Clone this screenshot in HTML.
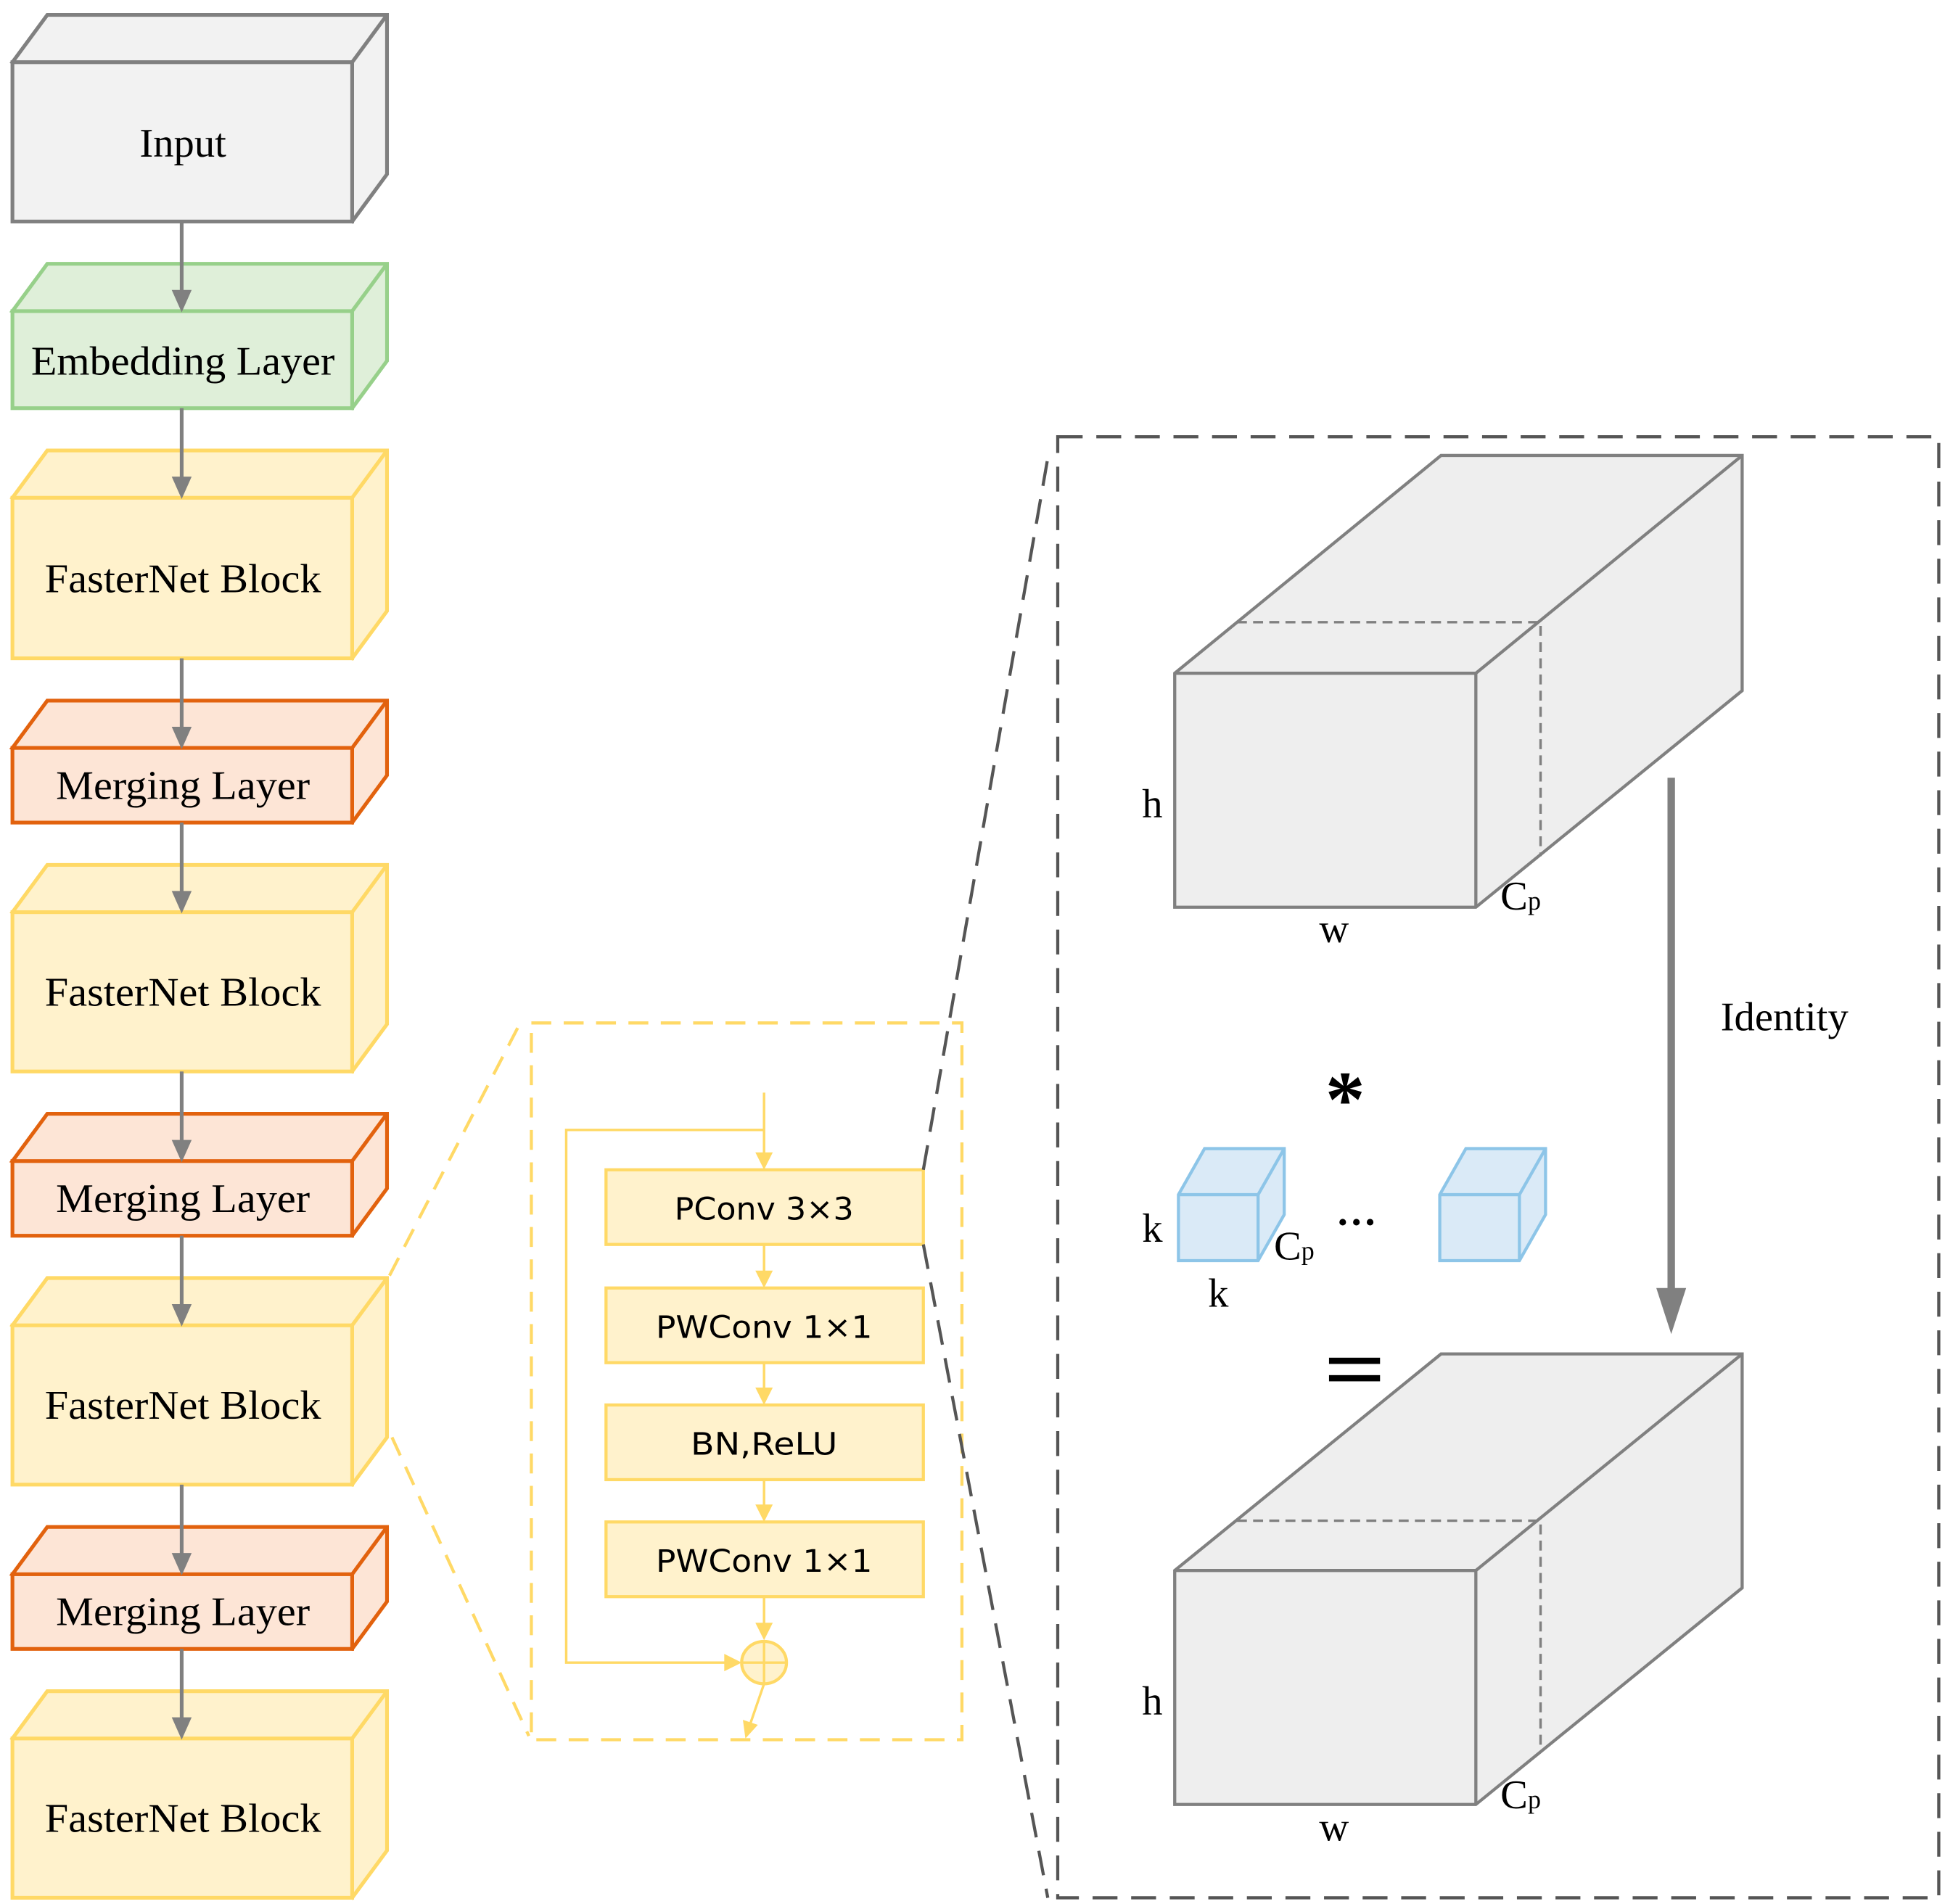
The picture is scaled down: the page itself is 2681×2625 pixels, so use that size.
<!DOCTYPE html>
<html><head><meta charset="utf-8"><style>html,body{margin:0;padding:0;background:#fff}svg{display:block}</style></head>
<body>
<svg width="2681" height="2625" viewBox="0 0 1563 1530" preserveAspectRatio="none" xmlns="http://www.w3.org/2000/svg">
<g font-family="Liberation Serif, serif" font-size="33" text-anchor="middle">
<g stroke-width="3" stroke-linejoin="miter">
<g stroke="#808080" fill="#f2f2f2"><path d="M10,50 L38,12 L311,12 L311,140 L283,178 Z"/><path d="M10,50 L283,50 L311,12 M283,50 L283,178" fill="none"/><rect x="10" y="50" width="273" height="128"/></g>
<g stroke="#97d08a" fill="#dfefd9"><path d="M10,250 L38,212 L311,212 L311,290 L283,328 Z"/><path d="M283,250 L311,212 M283,250 L283,328" fill="none"/><rect x="10" y="250" width="273" height="78"/></g>
<g stroke="#ffd966" fill="#fff2cc">
<path d="M10,400 L38,362 L311,362 L311,491 L283,529 Z"/><path d="M283,400 L311,362" fill="none"/><rect x="10" y="400" width="273" height="129"/>
<path d="M10,733 L38,695 L311,695 L311,823 L283,861 Z"/><path d="M283,733 L311,695" fill="none"/><rect x="10" y="733" width="273" height="128"/>
<path d="M10,1065 L38,1027 L311,1027 L311,1155 L283,1193 Z"/><path d="M283,1065 L311,1027" fill="none"/><rect x="10" y="1065" width="273" height="128"/>
<path d="M10,1397 L38,1359 L311,1359 L311,1487 L283,1525 Z"/><path d="M283,1397 L311,1359" fill="none"/><rect x="10" y="1397" width="273" height="128"/>
</g>
<g stroke="#e2620e" fill="#fde5d6">
<path d="M10,601 L38,563 L311,563 L311,623 L283,661 Z"/><path d="M283,601 L311,563" fill="none"/><rect x="10" y="601" width="273" height="60"/>
<path d="M10,933 L38,895 L311,895 L311,955 L283,993 Z"/><path d="M283,933 L311,895" fill="none"/><rect x="10" y="933" width="273" height="60"/>
<path d="M10,1265 L38,1227 L311,1227 L311,1287 L283,1325 Z"/><path d="M283,1265 L311,1227" fill="none"/><rect x="10" y="1265" width="273" height="60"/>
</g>
</g>
<g stroke="#808080" stroke-width="3">
<line x1="146" y1="178" x2="146" y2="236"/><line x1="146" y1="328" x2="146" y2="386"/><line x1="146" y1="529" x2="146" y2="587"/><line x1="146" y1="661" x2="146" y2="719"/><line x1="146" y1="861" x2="146" y2="919"/><line x1="146" y1="993" x2="146" y2="1051"/><line x1="146" y1="1193" x2="146" y2="1251"/><line x1="146" y1="1325" x2="146" y2="1383"/>
</g>
<g fill="#808080">
<path d="M138,233 L154,233 L146,251z"/><path d="M138,383 L154,383 L146,401z"/><path d="M138,584 L154,584 L146,602z"/><path d="M138,716 L154,716 L146,734z"/><path d="M138,916 L154,916 L146,934z"/><path d="M138,1048 L154,1048 L146,1066z"/><path d="M138,1248 L154,1248 L146,1266z"/><path d="M138,1380 L154,1380 L146,1398z"/>
</g>
<text x="147" y="126">Input</text>
<text x="147" y="301" textLength="244" lengthAdjust="spacingAndGlyphs">Embedding Layer</text>
<text x="147" y="476" textLength="222" lengthAdjust="spacingAndGlyphs">FasterNet Block</text>
<text x="147" y="642" textLength="204" lengthAdjust="spacingAndGlyphs">Merging Layer</text>
<text x="147" y="808" textLength="222" lengthAdjust="spacingAndGlyphs">FasterNet Block</text>
<text x="147" y="974" textLength="204" lengthAdjust="spacingAndGlyphs">Merging Layer</text>
<text x="147" y="1140" textLength="222" lengthAdjust="spacingAndGlyphs">FasterNet Block</text>
<text x="147" y="1306" textLength="204" lengthAdjust="spacingAndGlyphs">Merging Layer</text>
<text x="147" y="1472" textLength="222" lengthAdjust="spacingAndGlyphs">FasterNet Block</text>

<g stroke="#ffd966" stroke-width="2.5" fill="none" stroke-dasharray="16 10">
<rect x="427" y="822" width="346" height="576"/>
<line x1="313" y1="1025" x2="416" y2="826"/>
<line x1="315" y1="1155" x2="425" y2="1395"/>
</g>
<g stroke="#ffd966" stroke-width="2.5" fill="#fff2cc">
<rect x="487" y="940" width="255" height="60"/><rect x="487" y="1035" width="255" height="60"/><rect x="487" y="1129" width="255" height="60"/><rect x="487" y="1223" width="255" height="60"/>
<ellipse cx="614" cy="1336" rx="18" ry="17"/>
</g>
<g stroke="#ffd966" stroke-width="2" fill="none">
<line x1="614" y1="878" x2="614" y2="928"/><line x1="614" y1="1000" x2="614" y2="1023"/><line x1="614" y1="1095" x2="614" y2="1117"/><line x1="614" y1="1189" x2="614" y2="1211"/><line x1="614" y1="1283" x2="614" y2="1305"/>
<polyline points="614,908 455,908 455,1336 584,1336"/>
<line x1="596" y1="1336" x2="632" y2="1336"/><line x1="614" y1="1319" x2="614" y2="1353"/>
<line x1="614" y1="1353" x2="603" y2="1385"/>
</g>
<g fill="#ffd966">
<path d="M607,926 L621,926 L614,940z"/><path d="M607,1021 L621,1021 L614,1035z"/><path d="M607,1115 L621,1115 L614,1129z"/><path d="M607,1209 L621,1209 L614,1223z"/><path d="M607,1304 L621,1304 L614,1318z"/>
<path d="M582,1329 L596,1336 L582,1343z"/><path d="M597,1382 L609,1386 L599,1397z"/>
</g>
<g font-family="DejaVu Sans, Liberation Sans, sans-serif" font-size="25" fill="#000">
<text x="614" y="980" textLength="144" lengthAdjust="spacingAndGlyphs">PConv 3×3</text><text x="614" y="1075" textLength="174" lengthAdjust="spacingAndGlyphs">PWConv 1×1</text><text x="614" y="1169" textLength="118" lengthAdjust="spacingAndGlyphs">BN,ReLU</text><text x="614" y="1263" textLength="174" lengthAdjust="spacingAndGlyphs">PWConv 1×1</text>
</g>

<g stroke="#555" stroke-width="2.5" fill="none" stroke-dasharray="20 11">
<rect x="850" y="351" width="708" height="1174"/>
<line x1="742" y1="940" x2="842" y2="368"/>
<line x1="742" y1="1000" x2="842" y2="1525"/>
</g>

<g stroke="#808080" stroke-width="2.5" fill="#eeeeee">
<path d="M944,541 L1158,366 L1400,366 L1400,555 L1186,729 L944,729 Z"/>
<path d="M944,541 L1186,541 L1400,366 M1186,541 L1186,729" fill="none"/>
<path d="M944,1262 L1158,1088 L1400,1088 L1400,1276 L1186,1450 L944,1450 Z"/>
<path d="M944,1262 L1186,1262 L1400,1088 M1186,1262 L1186,1450" fill="none"/>
</g>
<g stroke="#808080" stroke-width="2" fill="none" stroke-dasharray="8 5">
<polyline points="994,500 1238,500 1238,688"/>
<polyline points="994,1222 1238,1222 1238,1408"/>
</g>
<text x="926" y="657">h</text><text x="1072" y="757">w</text>
<text x="1222" y="731">C<tspan font-size="21">p</tspan></text>
<text x="926" y="1378">h</text><text x="1072" y="1479">w</text>
<text x="1222" y="1453">C<tspan font-size="21">p</tspan></text>

<line x1="1343" y1="625" x2="1343" y2="1040" stroke="#808080" stroke-width="6"/>
<path d="M1331,1035 L1355,1035 L1343,1072z" fill="#808080"/>
<text x="1434" y="828">Identity</text>

<text x="1081" y="905" font-size="64" font-weight="bold">*</text>
<rect x="1068" y="1091" width="41" height="5" fill="#000"/><rect x="1068" y="1105" width="41" height="5" fill="#000"/>

<g stroke="#8dc5e8" stroke-width="2.5" fill="#daeaf7">
<path d="M947,960 L968,923 L1032,923 L1032,976 L1011,1013 L947,1013 Z"/><path d="M947,960 L1011,960 L1032,923 M1011,960 L1011,1013" fill="none"/>
<path d="M1157,960 L1178,923 L1242,923 L1242,976 L1221,1013 L1157,1013 Z"/><path d="M1157,960 L1221,960 L1242,923 M1221,960 L1221,1013" fill="none"/>
</g>
<text x="926" y="998">k</text><text x="979" y="1050">k</text>
<text x="1040" y="1012">C<tspan font-size="21">p</tspan></text>
<text x="1090" y="993" font-weight="bold">···</text>
</g>
</svg>
</body></html>
